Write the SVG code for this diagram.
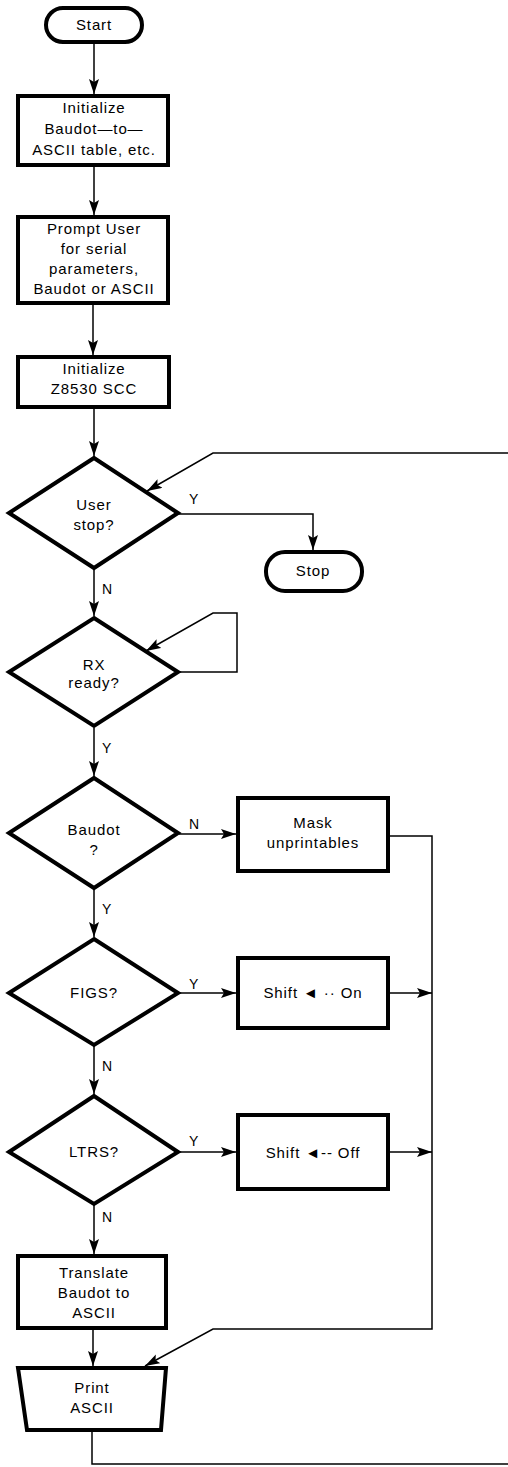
<svg xmlns="http://www.w3.org/2000/svg" width="508" height="1467" viewBox="0 0 508 1467">
<style>
.n{fill:#fff;stroke:#000;stroke-width:4;stroke-linejoin:miter}
.t{font-family:"Liberation Sans",Arial,sans-serif;font-size:15px;letter-spacing:0.9px;text-anchor:middle;fill:#000}
.l{font-family:"Liberation Sans",Arial,sans-serif;font-size:14px;fill:#000}
.c{fill:none;stroke:#000;stroke-width:1.5}
</style>
<defs>
<marker id="a" markerUnits="userSpaceOnUse" markerWidth="16" markerHeight="11" refX="15" refY="5" orient="auto">
<path d="M0,0 L15,5 L0,10 L3,5 z" fill="#000"/>
</marker>
</defs>
<rect width="508" height="1467" fill="#fff"/>
<g id="connectors">
<path class="c" d="M94,42 V94" marker-end="url(#a)"/>
<path class="c" d="M94,166 V215" marker-end="url(#a)"/>
<path class="c" d="M93,304 V355" marker-end="url(#a)"/>
<path class="c" d="M94,408 V456" marker-end="url(#a)"/>
<path class="c" d="M508,453 H213 L147,491" marker-end="url(#a)"/>
<path class="c" d="M178,514 H313 V550" marker-end="url(#a)"/>
<path class="c" d="M94,569 V616" marker-end="url(#a)"/>
<path class="c" d="M179,672 H237 V613 H213 L146,651" marker-end="url(#a)"/>
<path class="c" d="M94,728 V776" marker-end="url(#a)"/>
<path class="c" d="M179,834 H236" marker-end="url(#a)"/>
<path class="c" d="M390,836 H432 V1329 H213 L145,1366" marker-end="url(#a)"/>
<path class="c" d="M94,889 V937" marker-end="url(#a)"/>
<path class="c" d="M179,993 H236" marker-end="url(#a)"/>
<path class="c" d="M390,993 H432" marker-end="url(#a)"/>
<path class="c" d="M94,1046 V1094" marker-end="url(#a)"/>
<path class="c" d="M179,1152 H236" marker-end="url(#a)"/>
<path class="c" d="M390,1152 H432" marker-end="url(#a)"/>
<path class="c" d="M94,1205 V1254" marker-end="url(#a)"/>
<path class="c" d="M93,1329 V1366" marker-end="url(#a)"/>
<path class="c" d="M92,1431 V1464 H508"/>
<text class="l" x="189" y="504">Y</text>
<text class="l" x="102" y="594">N</text>
<text class="l" x="102" y="753">Y</text>
<text class="l" x="189" y="829">N</text>
<text class="l" x="102" y="914">Y</text>
<text class="l" x="189" y="989">Y</text>
<text class="l" x="102" y="1071">N</text>
<text class="l" x="189" y="1146">Y</text>
<text class="l" x="102" y="1222">N</text>
</g>
<g id="start">
<rect class="n" x="46" y="8" width="96" height="34" rx="17"/>
<text class="t" x="94" y="30">Start</text>
</g>
<g id="init-table">
<rect class="n" x="18" y="96" width="150" height="69"/>
<text class="t" x="94" y="113">Initialize</text>
<text class="t" x="94" y="134">Baudot—to—</text>
<text class="t" x="94" y="155">ASCII table, etc.</text>
</g>
<g id="prompt">
<rect class="n" x="18" y="217" width="150" height="86"/>
<text class="t" x="94" y="234">Prompt User</text>
<text class="t" x="94" y="254">for serial</text>
<text class="t" x="94" y="274">parameters,</text>
<text class="t" x="94" y="294">Baudot or ASCII</text>
</g>
<g id="init-scc">
<rect class="n" x="18" y="357" width="151" height="50"/>
<text class="t" x="94" y="374">Initialize</text>
<text class="t" x="94" y="394">Z8530 SCC</text>
</g>
<g id="user-stop">
<polygon class="n" points="94,458 178,513 94,568 9,513"/>
<text class="t" x="94" y="510">User</text>
<text class="t" x="94" y="530">stop?</text>
</g>
<g id="stop">
<rect class="n" x="266" y="552" width="96" height="39" rx="19"/>
<text class="t" x="313" y="576">Stop</text>
</g>
<g id="rx-ready">
<polygon class="n" points="94,618 178,672 94,726 9,672"/>
<text class="t" x="94" y="670">RX</text>
<text class="t" x="94" y="688">ready?</text>
</g>
<g id="baudot">
<polygon class="n" points="94,778 178,833 94,888 9,833"/>
<text class="t" x="94" y="835">Baudot</text>
<text class="t" x="94" y="855">?</text>
</g>
<g id="mask">
<rect class="n" x="238" y="798" width="150" height="73"/>
<text class="t" x="313" y="828">Mask</text>
<text class="t" x="313" y="848">unprintables</text>
</g>
<g id="figs">
<polygon class="n" points="94,939 178,993 94,1045 9,993"/>
<text class="t" x="94" y="998">FIGS?</text>
</g>
<g id="shift-on">
<rect class="n" x="238" y="958" width="150" height="70"/>
<text class="t" x="313" y="998">Shift ◄ ·· On</text>
</g>
<g id="ltrs">
<polygon class="n" points="94,1096 178,1152 94,1204 9,1152"/>
<text class="t" x="94" y="1157">LTRS?</text>
</g>
<g id="shift-off">
<rect class="n" x="238" y="1115" width="150" height="74"/>
<text class="t" x="313" y="1158">Shift ◄-- Off</text>
</g>
<g id="translate">
<rect class="n" x="18" y="1256" width="148" height="72"/>
<text class="t" x="94" y="1278">Translate</text>
<text class="t" x="94" y="1298">Baudot to</text>
<text class="t" x="94" y="1318">ASCII</text>
</g>
<g id="print">
<polygon class="n" points="18,1368 166,1368 161,1430 27,1430"/>
<text class="t" x="92" y="1393">Print</text>
<text class="t" x="92" y="1413">ASCII</text>
</g>
</svg>
